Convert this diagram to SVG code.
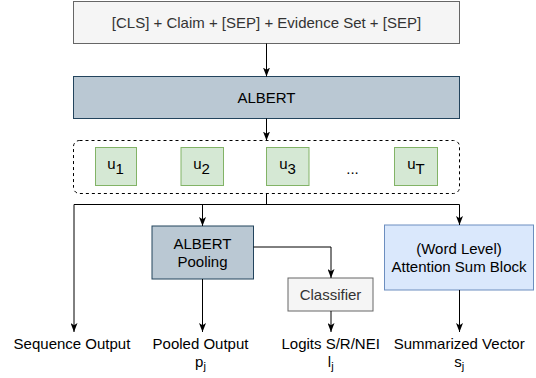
<svg xmlns="http://www.w3.org/2000/svg" width="536" height="378" viewBox="0 0 536 378">
<style>
  text { font-family: "Liberation Sans", Arial, Helvetica, sans-serif; font-size: 15px; fill: #000; text-anchor: middle; }
  .gray { fill: #f5f5f5; stroke: #666666; stroke-width: 1; }
  .gtext { fill: #333333; }
  .albert { fill: #bac8d3; stroke: #23445d; stroke-width: 1; }
  .tok { fill: #d5e8d4; stroke: #82b366; stroke-width: 1; }
  .blue { fill: #dae8fc; stroke: #6c8ebf; stroke-width: 1; }
  .dash { fill: none; stroke: #000; stroke-width: 1; stroke-dasharray: 3 3; }
  .edge { fill: none; stroke: #000; stroke-width: 1; }
  .arr { marker-end: url(#ah); }
  .sub { font-size: 11px; }
</style>
<defs>
  <marker id="ah" markerUnits="userSpaceOnUse" viewBox="0 0 9 7" markerWidth="9" markerHeight="7" refX="9" refY="3.5" orient="auto">
    <path d="M0,0 L9,3.5 L0,7 L2.3,3.5 Z" fill="#000"/>
  </marker>
</defs>
<rect width="536" height="378" fill="#ffffff"/>

<g id="input">
  <rect class="gray" x="73.5" y="1.5" width="386" height="42"/>
  <text class="gtext" x="266.5" y="27.8">[CLS] + Claim + [SEP] + Evidence Set + [SEP]</text>
</g>
<g id="albert">
  <rect class="albert" x="73.5" y="76.5" width="386" height="42"/>
  <text x="266.5" y="103">ALBERT</text>
</g>
<g id="tokens">
  <rect class="dash" x="73.5" y="140.5" width="386" height="53" rx="6" ry="6"/>
  <g id="u1">
    <rect class="tok" x="95.5" y="147.5" width="41" height="38"/>
    <text x="115.5" y="168.5">u<tspan dy="5.8">1</tspan></text>
  </g>
  <g id="u2">
    <rect class="tok" x="181" y="147.5" width="42.5" height="38"/>
    <text x="201.5" y="168.5">u<tspan dy="5.8">2</tspan></text>
  </g>
  <g id="u3">
    <rect class="tok" x="266.5" y="147.5" width="42.5" height="38"/>
    <text x="287.5" y="168.5">u<tspan dy="5.8">3</tspan></text>
  </g>
  <g id="ellipsis">
    <text x="352.5" y="174">...</text>
  </g>
  <g id="uT">
    <rect class="tok" x="394.5" y="147.5" width="43" height="38"/>
    <text x="416" y="168.5">u<tspan dy="5.8">T</tspan></text>
  </g>
</g>
<g id="pooling">
  <rect class="albert" x="152" y="226" width="101.5" height="53"/>
  <text x="202.5" y="249.3">ALBERT</text>
  <text x="202.5" y="266.5">Pooling</text>
</g>
<g id="classifier">
  <rect class="gray" x="288" y="278" width="85" height="33"/>
  <text class="gtext" x="330.5" y="299.8">Classifier</text>
</g>
<g id="attention">
  <rect class="blue" x="384.5" y="225" width="149" height="65"/>
  <text x="459" y="254.3">(Word Level)</text>
  <text x="459" y="271.5">Attention Sum Block</text>
</g>

<g id="labels">
  <text x="72" y="349.3">Sequence Output</text>
  <g id="pooled-output">
    <text x="200.5" y="349.3">Pooled Output</text>
    <text x="200.5" y="366.5">p<tspan class="sub" dy="3">j</tspan></text>
  </g>
  <g id="logits">
    <text x="330.7" y="349.3">Logits S/R/NEI</text>
    <text x="330.7" y="366.5">l<tspan class="sub" dy="3">j</tspan></text>
  </g>
  <g id="summarized">
    <text x="459.2" y="349.3">Summarized Vector</text>
    <text x="459.2" y="366.5">s<tspan class="sub" dy="3">j</tspan></text>
  </g>
</g>

<g id="connectors">
  <path class="edge arr" d="M266.5,43.5 L266.5,76.5"/>
  <path class="edge arr" d="M266.5,118.5 L266.5,140.5"/>
  <path class="edge" d="M266.5,193.5 L266.5,204.5"/>
  <path class="edge" d="M74,204.5 L459.5,204.5"/>
  <path class="edge arr" d="M74,204.5 L74,332"/>
  <path class="edge arr" d="M202.5,204.5 L202.5,226"/>
  <path class="edge arr" d="M459.5,204.5 L459.5,225"/>
  <path class="edge arr" d="M253.5,247 L331,247 L331,278"/>
  <path class="edge arr" d="M202.5,279 L202.5,332"/>
  <path class="edge arr" d="M331,311 L331,332"/>
  <path class="edge arr" d="M459.5,290 L459.5,332"/>
</g>
</svg>
